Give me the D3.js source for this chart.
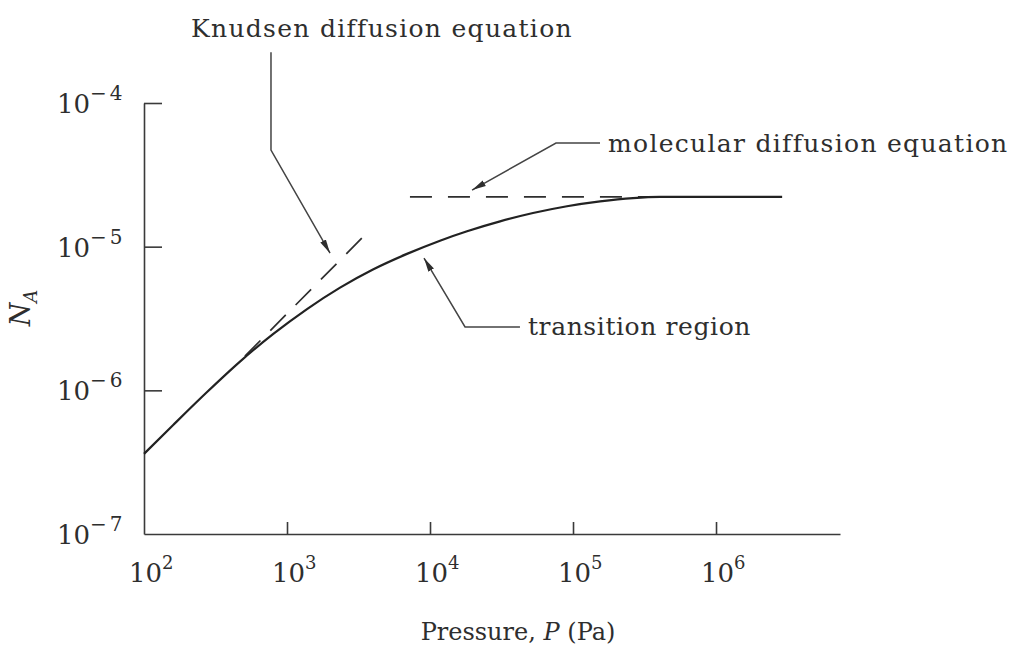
<!DOCTYPE html>
<html><head><meta charset="utf-8">
<script src="https://cdn.jsdelivr.net/npm/d3@7"></script>
<style>
body{margin:0;background:#fff}
text{font-family:"DejaVu Serif",serif;fill:#2e2e2e}
</style>
</head><body>
<svg id="c" width="1018" height="655"></svg>
<script>
// ---- data ----
const pressure = [100,160,276,469,798,1380,2350,3990,6900,11750,18160,30900,52500,90800,154500,263000,405000,2.9e6];
const flux = [3.61e-7,5.74e-7,9.73e-7,1.585e-6,2.46e-6,3.68e-6,5.19e-6,6.94e-6,8.91e-6,1.101e-5,1.28e-5,1.5e-5,1.714e-5,1.911e-5,2.066e-5,2.178e-5,2.218e-5,2.22e-5];
const knudsenP = [508, 3800];
const knudsenN = [1.73e-6, 1.306e-5];
const molecularP = [7240, 405000];
const molecularN = [2.22e-5, 2.22e-5];
const xTickExps = [2,3,4,5,6];
const yTickExps = [-7,-6,-5,-4];
const xLabel = "Pressure, ";
const yLabel = "N";

// annotations: positions in log10 data units
const annKnudsen = {text:"Knudsen diffusion equation", at:[3.664,-3.541], anchor:"middle", ls:1.3,
  path:[[2.888,-3.646],[2.888,-4.328],[3.301,-5.045]]};
const annMolecular = {text:"molecular diffusion equation", at:[5.245,-4.342], anchor:"start", ls:1.3,
  path:[[5.189,-4.279],[4.881,-4.279],[4.294,-4.606]]};
const annTransition = {text:"transition region", at:[4.685,-5.615], anchor:"start", ls:0.6,
  path:[[4.629,-5.559],[4.245,-5.559],[3.958,-5.079]]};

// ---- layout ----
const svg = d3.select("#c");
const x = d3.scaleLog().domain([1e2, Math.pow(10, 6.867)]).range([144, 840]);
const y = d3.scaleLog().domain([1e-7, 1e-4]).range([534, 103]);
const ink = "#2e2e2e";

// arrow marker
svg.append("defs").append("marker")
  .attr("id","arr").attr("viewBox","0 0 14 8").attr("refX",14).attr("refY",4)
  .attr("markerWidth",14).attr("markerHeight",8).attr("markerUnits","userSpaceOnUse")
  .attr("orient","auto")
  .append("path").attr("d","M0,0.8 L14,4 L0,7.2 Z").attr("fill",ink);

// axes
const xAxis = d3.axisBottom(x).tickValues(xTickExps.slice(1).map(e=>Math.pow(10,e)))
  .tickSize(-12).tickSizeOuter(0).tickFormat("");
const gx = svg.append("g").attr("transform","translate(0,534)").call(xAxis);
const yAxis = d3.axisLeft(y).tickValues(yTickExps.slice(1).map(e=>Math.pow(10,e)))
  .tickSize(-18).tickSizeOuter(0).tickFormat("");
const gy = svg.append("g").attr("transform","translate(144,0)").call(yAxis);
[gx,gy].forEach(g=>{
  g.selectAll("path,line").attr("stroke","#3a3a3a").attr("stroke-width",1.6);
});

// x tick labels
xTickExps.forEach(e=>{
  const t = svg.append("text").attr("x", x(Math.pow(10,e)) - 15).attr("y", 582)
    .attr("font-size",26).attr("text-anchor","start");
  t.append("tspan").text("10");
  t.append("tspan").attr("font-size",18).attr("dy",-13).text(e);
});
// y tick labels
yTickExps.forEach(e=>{
  const t = svg.append("text").attr("x", 57).attr("y", y(Math.pow(10,e)) + 10)
    .attr("font-size",26).attr("text-anchor","start");
  t.append("tspan").text("10");
  t.append("tspan").attr("font-size",20).attr("dy",-13).attr("letter-spacing",3).text("\u2212" + Math.abs(e));
});

// axis titles
const xt = svg.append("text").attr("x",518).attr("y",640).attr("text-anchor","middle").attr("font-size",24);
xt.append("tspan").text(xLabel);
xt.append("tspan").attr("font-style","italic").text("P");
xt.append("tspan").text(" (Pa)");
const yt = svg.append("text").attr("transform","translate(30,308) rotate(-90)")
  .attr("text-anchor","middle").attr("font-size",27);
yt.append("tspan").attr("font-style","italic").text(yLabel);
yt.append("tspan").attr("font-style","italic").attr("font-size",18).attr("dy",7).text("A");

// lines
const line = d3.line().x(d=>x(d[0])).y(d=>y(d[1]));
svg.append("path").datum(d3.zip(knudsenP, knudsenN)).attr("d", line)
  .attr("fill","none").attr("stroke",ink).attr("stroke-width",1.7).attr("stroke-dasharray","22,14");
svg.append("path").datum(d3.zip(molecularP, molecularN)).attr("d", line)
  .attr("fill","none").attr("stroke",ink).attr("stroke-width",1.7).attr("stroke-dasharray","22,16");
svg.append("path").datum(d3.zip(pressure, flux)).attr("d", line.curve(d3.curveMonotoneX))
  .attr("fill","none").attr("stroke","#222").attr("stroke-width",2.2);

// annotations
const lineRaw = d3.line().x(d=>x(Math.pow(10,d[0]))).y(d=>y(Math.pow(10,d[1])));
[annKnudsen, annMolecular, annTransition].forEach(a=>{
  svg.append("path").datum(a.path).attr("d", lineRaw)
    .attr("fill","none").attr("stroke","#444").attr("stroke-width",1.5)
    .attr("marker-end","url(#arr)");
  svg.append("text").attr("x", x(Math.pow(10,a.at[0]))).attr("y", y(Math.pow(10,a.at[1])))
    .attr("text-anchor", a.anchor).attr("font-size",25).attr("letter-spacing",a.ls).text(a.text);
});
</script>
</body></html>
